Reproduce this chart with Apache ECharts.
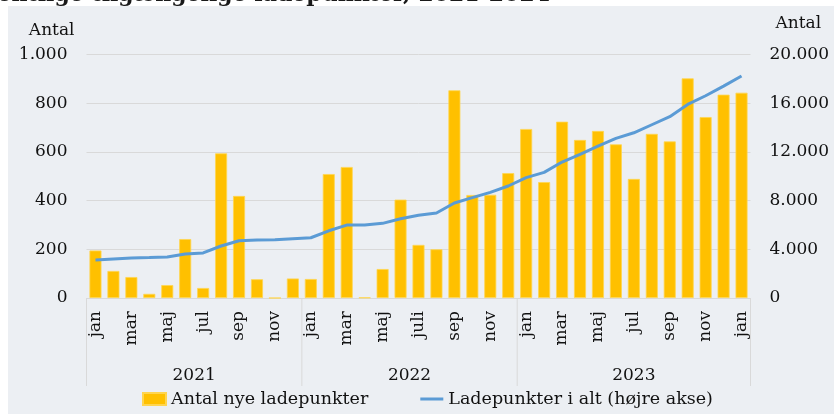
<!DOCTYPE html>
<html>
<head>
<meta charset="utf-8">
<script src="https://cdn.jsdelivr.net/npm/echarts@6/dist/echarts.min.js"></script>
<style>
html,body{margin:0;padding:0;background:#fff;}
#chart{width:834px;height:414px;}
</style>
</head>
<body>
<div id="chart"></div>
<script>
// ---- data ----
const months = ['jan','feb','mar','apr','maj','jun','jul','aug','sep','okt','nov','dec',
                'jan','feb','mar','apr','maj','jun','juli','aug','sep','okt','nov','dec',
                'jan','feb','mar','apr','maj','jun','jul','aug','sep','okt','nov','dec',
                'jan'];
const newPoints = [195,111,86,17,53,242,41,594,419,77,0,80,
                   78,509,538,2,119,404,218,200,853,423,424,513,
                   694,476,724,649,686,631,489,674,643,902,743,835,
                   843];
const totalPoints = [3120,3200,3280,3320,3370,3620,3700,4270,4700,4760,4790,4870,
                     4950,5520,5990,5990,6130,6510,6790,6980,7800,8240,8680,9200,
                     9890,10320,11170,11800,12480,13110,13570,14230,14890,15900,16610,17400,
                     18230];
const years = ['2021','2022','2023'];
const yearStart = [0,12,24];
const yearEnd = [12,24,37];
const leftTicks = [0,200,400,600,800,1000];
const rightTicks = [0,4000,8000,12000,16000,20000];
const seriesNames = ['Antal nye ladepunkter','Ladepunkter i alt (højre akse)'];
const titleText = 'Offentlige tilgængelige ladepunkter, 2021-2024';

const FONT = 'DejaVu Serif';
const fmt = v => String(v).replace(/\B(?=(\d{3})+(?!\d))/g, '.');

const chart = echarts.init(document.getElementById('chart'));
const option = {
  animation: false,
  textStyle: {fontFamily: FONT},
  title: {
    text: titleText, right: 279, top: -21,
    textStyle: {fontFamily: FONT, fontWeight: 'bold', fontSize: 22, color: '#1a1a1a'}
  },
  grid: {left: 86.5, right: 83.5, top: 54.5, bottom: 116, containLabel: false},
  legend: {
    bottom: 1, left: 137, itemGap: 52, itemWidth: 23, itemHeight: 12,
    textStyle: {fontFamily: FONT, fontSize: 17.5, color: '#111'},
    data: [{name: seriesNames[0], icon: 'rect'},
           {name: seriesNames[1], icon: 'path://M0,0L23,0L23,3L0,3Z'}]
  },
  xAxis: {
    type: 'category', data: months, boundaryGap: true,
    axisLine: {show: true, lineStyle: {color: '#d9d9d9', width: 1}},
    axisTick: {show: false},
    axisLabel: {interval: 1, rotate: 90, margin: 13, fontFamily: FONT, fontSize: 17, color: '#111'}
  },
  yAxis: [{
    type: 'value', min: leftTicks[0], max: leftTicks[leftTicks.length-1], interval: leftTicks[1]-leftTicks[0],
    name: 'Antal', nameLocation: 'end', nameGap: 15,
    nameTextStyle: {fontFamily: FONT, fontSize: 17, color: '#111', align: 'right', padding: [0, 12, 0, 0]},
    axisLine: {show: false}, axisTick: {show: false},
    axisLabel: {margin: 19, fontFamily: FONT, fontSize: 17, color: '#111', formatter: fmt},
    splitLine: {lineStyle: {color: '#d9d9d9', width: 1}}
  }, {
    type: 'value', min: rightTicks[0], max: rightTicks[rightTicks.length-1], interval: rightTicks[1]-rightTicks[0],
    name: 'Antal', nameLocation: 'end', nameGap: 22,
    nameTextStyle: {fontFamily: FONT, fontSize: 17, color: '#111', align: 'left', padding: [0, 0, 0, 25]},
    axisLine: {show: false}, axisTick: {show: false},
    axisLabel: {margin: 19, fontFamily: FONT, fontSize: 17, color: '#111', formatter: fmt},
    splitLine: {show: false}
  }],
  series: [{
    name: seriesNames[0], type: 'bar', data: newPoints, barWidth: 12,
    itemStyle: {color: '#FFC000', borderColor: '#FFD54F', borderWidth: 0.8}
  }, {
    name: seriesNames[1], type: 'line', yAxisIndex: 1, data: totalPoints,
    symbol: 'none', showSymbol: false, smooth: false,
    lineStyle: {color: '#5B9BD5', width: 3}, itemStyle: {color: '#5B9BD5'}, z: 3
  }]
};
chart.setOption(option);

// group separators and year labels from the axis scale
const c0 = chart.convertToPixel({xAxisIndex: 0}, 0);
const c1 = chart.convertToPixel({xAxisIndex: 0}, 1);
const bw = c1 - c0;
const y0 = chart.convertToPixel({yAxisIndex: 0}, 0);
const bx = i => c0 - bw / 2 + i * bw;
const gfx = [{
  type: 'rect', z: -10, silent: true,
  shape: {x: 8, y: 6, width: 834, height: 414},
  style: {fill: '#ECEFF3'}
}];
const bounds = [...new Set(yearStart.concat(yearEnd))];
bounds.forEach(b => gfx.push({
  type: 'line', silent: true, z: 1,
  shape: {x1: bx(b), y1: y0, x2: bx(b), y2: y0 + 88},
  style: {stroke: '#d9d9d9', lineWidth: 1}
}));
years.forEach((yr, k) => gfx.push({
  type: 'text', silent: true, z: 1,
  x: (bx(yearStart[k]) + bx(yearEnd[k])) / 2, y: y0 + 78,
  style: {text: yr, fontFamily: FONT, fontSize: 17, fill: '#111', align: 'center', verticalAlign: 'middle'}
}));
chart.setOption({graphic: gfx});
</script>
</body>
</html>
